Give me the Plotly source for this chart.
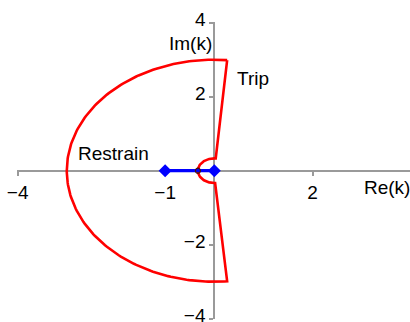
import numpy as np
import plotly.graph_objects as go

# Restraint characteristic in the k-plane (current ratio plane)
outer_radius = 3.0          # |k| upper limit
inner_radius = 1.0 / 3.0    # |k| lower limit
edge_angle_deg = 85.0       # restraint region spans 85°..275°

# Blue segment along the real axis
seg_re = [-1.0, 0.0]
seg_im = [0.0, 0.0]
marker_re = [-1.0 / 3.0]
marker_im = [0.0]

# Axis ticks
x_ticks = [-4, -1, 2]
y_ticks = [-4, -2, 2, 4]

# Text labels: (text, re, im)
labels = [("Trip", 0.78, 2.5), ("Restrain", -2.06, 0.46)]

# Build the closed boundary: radial edge, outer arc, radial edge, inner arc
a0 = np.deg2rad(edge_angle_deg)
a1 = np.deg2rad(360.0 - edge_angle_deg)
outer = np.linspace(a0, a1, 181)
inner = np.linspace(a1, a0, 91)
bx = np.concatenate([outer_radius * np.cos(outer), inner_radius * np.cos(inner),
                     [outer_radius * np.cos(a0)]])
by = np.concatenate([outer_radius * np.sin(outer), inner_radius * np.sin(inner),
                     [outer_radius * np.sin(a0)]])

W, H = 410, 322
# pixel geometry of the axes
x0_px, x_unit = 214.3, 49.17
y0_px, y_unit = 170.7, 37.0
x_min = -4.01
x_max = (W - x0_px) / x_unit
y_lim = 4.01
x_dom0 = (x0_px + x_min * x_unit) / W
y_dom = [1 - (y0_px + y_lim * y_unit) / H, 1 - (y0_px - y_lim * y_unit) / H]
x_axis_pos = 1 - y0_px / H
y_axis_pos = x0_px / W

font = dict(family="Liberation Sans, Arial, sans-serif", size=19, color="black")
axis_color = "#9a9a9a"

fig = go.Figure()
fig.add_trace(go.Scatter(x=bx, y=by, mode="lines",
                         line=dict(color="#ff0000", width=2.6),
                         hoverinfo="skip", cliponaxis=False))
fig.add_trace(go.Scatter(x=seg_re, y=seg_im, mode="lines+markers",
                         line=dict(color="#0000ff", width=3.2),
                         marker=dict(symbol="diamond", size=10, color="#0000ff"),
                         cliponaxis=False))
fig.add_trace(go.Scatter(x=marker_re, y=marker_im, mode="markers",
                         marker=dict(symbol="circle-open", size=5,
                                     color="#401010", line=dict(width=1.2)),
                         cliponaxis=False))

for text, xr, yr in labels:
    fig.add_annotation(x=xr, y=yr, text=text, showarrow=False, font=font,
                       xanchor="center", yanchor="middle")
fig.add_annotation(x=3.51, y=-0.45, text="Re(k)", showarrow=False, font=font,
                   xanchor="center", yanchor="middle")
fig.add_annotation(x=-0.48, y=3.44, text="Im(k)", showarrow=False, font=font,
                   xanchor="center", yanchor="middle")

fig.update_layout(
    width=W, height=H,
    margin=dict(l=0, r=0, t=0, b=0, pad=0, autoexpand=False),
    paper_bgcolor="white", plot_bgcolor="white",
    showlegend=False,
    xaxis=dict(range=[x_min, x_max], domain=[x_dom0, 1], anchor="free",
               position=x_axis_pos, showgrid=False, zeroline=False,
               showline=True, linecolor=axis_color, linewidth=2,
               tickvals=x_ticks, ticks="outside", ticklen=4, tickwidth=1.5,
               tickcolor=axis_color, tickfont=font, layer="below traces",
               automargin=False, ticklabeloverflow="allow"),
    yaxis=dict(range=[-y_lim, y_lim], domain=y_dom, anchor="free",
               position=y_axis_pos, showgrid=False, zeroline=False,
               showline=True, linecolor=axis_color, linewidth=2,
               tickvals=y_ticks, ticks="outside", ticklen=4, tickwidth=1.5,
               tickcolor=axis_color, tickfont=font, layer="below traces",
               automargin=False, ticklabeloverflow="allow",
               ticklabelshift=-3),
)

fig.write_html("out.html")
